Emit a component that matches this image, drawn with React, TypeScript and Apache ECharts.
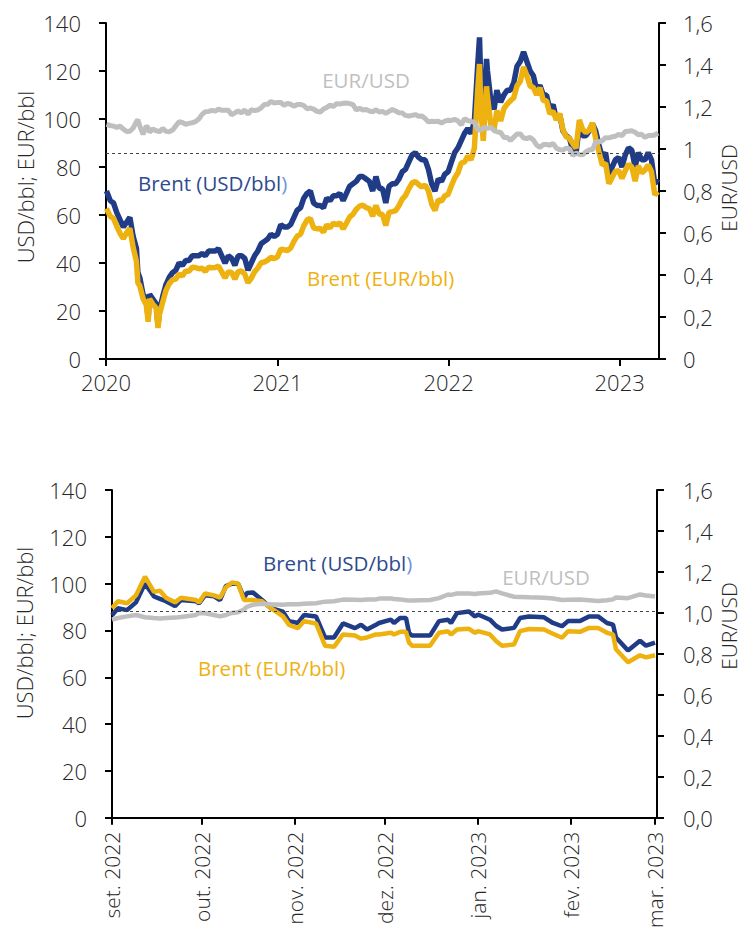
import React, { useEffect, useRef } from 'react';
import * as echarts from 'echarts';

// ---------- TOP CHART DATA (2020 – Mar 2023) ----------
const topDates = [
  '2020-01-02','2020-01-10','2020-01-17','2020-01-24','2020-01-31','2020-02-07','2020-02-14','2020-02-21','2020-02-28','2020-03-06',
  '2020-03-09','2020-03-13','2020-03-20','2020-03-27','2020-03-31','2020-04-03','2020-04-10','2020-04-17','2020-04-21','2020-04-24',
  '2020-05-01','2020-05-08','2020-05-15','2020-05-22','2020-05-29','2020-06-05','2020-06-12','2020-06-19','2020-06-26','2020-07-03',
  '2020-07-10','2020-07-17','2020-07-24','2020-07-31','2020-08-07','2020-08-14','2020-08-21','2020-08-28','2020-09-04','2020-09-11',
  '2020-09-18','2020-09-25','2020-10-02','2020-10-09','2020-10-16','2020-10-23','2020-10-30','2020-11-06','2020-11-13','2020-11-20',
  '2020-11-27','2020-12-04','2020-12-11','2020-12-18','2020-12-25','2021-01-01','2021-01-08','2021-01-15','2021-01-22','2021-01-29',
  '2021-02-05','2021-02-12','2021-02-19','2021-02-26','2021-03-05','2021-03-12','2021-03-19','2021-03-26','2021-04-02','2021-04-09',
  '2021-04-16','2021-04-23','2021-04-30','2021-05-07','2021-05-14','2021-05-21','2021-05-28','2021-06-04','2021-06-11','2021-06-18',
  '2021-06-25','2021-07-02','2021-07-09','2021-07-16','2021-07-23','2021-07-30','2021-08-06','2021-08-13','2021-08-20','2021-08-27',
  '2021-09-03','2021-09-10','2021-09-17','2021-09-24','2021-10-01','2021-10-08','2021-10-15','2021-10-22','2021-10-29','2021-11-05',
  '2021-11-12','2021-11-19','2021-11-26','2021-12-03','2021-12-10','2021-12-17','2021-12-24','2021-12-31','2022-01-07','2022-01-14',
  '2022-01-21','2022-01-28','2022-02-04','2022-02-11','2022-02-18','2022-02-25','2022-03-04','2022-03-08','2022-03-11','2022-03-16',
  '2022-03-23','2022-03-25','2022-04-01','2022-04-08','2022-04-14','2022-04-22','2022-04-29','2022-05-06','2022-05-13','2022-05-20',
  '2022-05-27','2022-06-03','2022-06-10','2022-06-17','2022-06-24','2022-07-01','2022-07-08','2022-07-15','2022-07-22','2022-07-29',
  '2022-08-05','2022-08-12','2022-08-19','2022-08-26','2022-09-02','2022-09-09','2022-09-16','2022-09-23','2022-09-30','2022-10-07',
  '2022-10-14','2022-10-21','2022-10-28','2022-11-04','2022-11-11','2022-11-18','2022-11-25','2022-12-02','2022-12-09','2022-12-16',
  '2022-12-23','2022-12-30','2023-01-06','2023-01-13','2023-01-20','2023-01-27','2023-02-03','2023-02-10','2023-02-17','2023-02-24',
  '2023-03-03','2023-03-10','2023-03-17','2023-03-24',
];
const topBrentUSD = [
  70, 66, 65, 61, 58, 55, 57, 59, 51, 46,
  36, 34, 27, 25, 17, 27, 25, 23, 14, 20,
  26, 31, 34, 36, 37, 40, 39, 41, 41, 43,
  43, 43, 44, 43, 45, 45, 45, 46, 43, 40,
  43, 42, 39, 43, 43, 42, 37, 40, 43, 45,
  48, 49, 50, 52, 51, 52, 56, 55, 55, 56,
  59, 62, 63, 67, 69, 70, 65, 64, 64, 63,
  67, 66, 68, 68, 69, 66, 69, 72, 73, 74,
  76, 76, 75, 74, 70, 76, 71, 71, 65, 72,
  73, 73, 75, 78, 79, 82, 85, 86, 84, 83,
  83, 79, 73, 70, 75, 74, 77, 78, 82, 86,
  88, 91, 94, 96, 94, 99, 122, 134, 113, 100,
  125, 120, 108, 104, 112, 107, 110, 112, 112, 115,
  122, 124, 128, 124, 120, 118, 112, 114, 110, 110,
  104, 106, 100, 102, 95, 93, 92, 87, 86, 97,
  93, 93, 95, 98, 95, 89, 84, 86, 77, 80,
  83, 84, 80, 85, 88, 87, 80, 86, 83, 83,
  86, 83, 73, 75,
];
const topBrentEUR = [
  62.7, 59.4, 58.6, 55.3, 52.3, 50.2, 52.6, 54.4, 46.4, 40.7,
  31.6, 30.6, 25.2, 22.5, 15.5, 25.0, 22.8, 21.2, 12.9, 18.5,
  23.7, 28.6, 31.4, 33.0, 33.3, 35.4, 34.6, 36.7, 36.5, 38.2,
  38.1, 37.6, 37.8, 36.5, 38.2, 38.0, 38.1, 38.7, 36.3, 33.8,
  36.3, 36.1, 33.3, 36.4, 36.7, 35.4, 31.8, 33.7, 36.3, 37.9,
  40.1, 40.4, 41.2, 42.4, 41.8, 42.6, 45.8, 45.5, 45.2, 46.2,
  49.0, 51.2, 52.0, 55.5, 57.9, 58.6, 54.6, 54.3, 54.4, 52.9,
  55.9, 54.6, 56.6, 55.9, 56.8, 54.2, 56.6, 59.2, 60.3, 62.4,
  63.7, 64.1, 63.1, 62.7, 59.5, 64.0, 60.4, 60.2, 55.6, 61.1,
  61.4, 61.8, 63.9, 66.6, 68.1, 70.9, 73.3, 73.9, 72.7, 71.7,
  72.5, 70.0, 64.5, 61.9, 66.3, 65.8, 68.0, 68.6, 72.2, 75.4,
  77.6, 81.6, 82.1, 84.6, 83.0, 87.8, 111.6, 122.9, 103.6, 90.9,
  113.6, 109.3, 97.7, 95.6, 103.5, 99.2, 104.3, 106.2, 107.6, 108.9,
  113.8, 115.7, 121.7, 118.1, 113.7, 113.1, 110.0, 113.1, 107.7, 107.6,
  102.2, 103.3, 99.6, 102.3, 95.5, 92.6, 91.9, 89.8, 87.8, 99.6,
  95.7, 94.3, 95.4, 98.4, 91.8, 86.2, 80.8, 81.6, 73.1, 75.6,
  78.2, 78.5, 75.2, 78.5, 81.1, 80.0, 74.1, 80.5, 77.6, 78.7,
  80.8, 78.0, 68.4, 69.7,
];
const topEURUSD = [
  1.117, 1.112, 1.109, 1.103, 1.109, 1.095, 1.083, 1.085, 1.100, 1.130,
  1.140, 1.110, 1.070, 1.110, 1.100, 1.080, 1.095, 1.087, 1.086, 1.080,
  1.098, 1.084, 1.082, 1.090, 1.110, 1.130, 1.126, 1.118, 1.122, 1.125,
  1.130, 1.143, 1.165, 1.178, 1.179, 1.184, 1.180, 1.190, 1.184, 1.184,
  1.184, 1.163, 1.172, 1.182, 1.172, 1.186, 1.165, 1.187, 1.183, 1.186,
  1.196, 1.212, 1.213, 1.226, 1.219, 1.222, 1.222, 1.208, 1.217, 1.213,
  1.204, 1.212, 1.212, 1.207, 1.192, 1.195, 1.190, 1.179, 1.176, 1.190,
  1.198, 1.209, 1.202, 1.216, 1.214, 1.218, 1.219, 1.216, 1.211, 1.186,
  1.194, 1.186, 1.188, 1.181, 1.177, 1.187, 1.176, 1.179, 1.170, 1.179,
  1.188, 1.181, 1.173, 1.172, 1.160, 1.157, 1.160, 1.164, 1.156, 1.157,
  1.145, 1.129, 1.132, 1.131, 1.132, 1.124, 1.133, 1.137, 1.136, 1.141,
  1.134, 1.115, 1.145, 1.135, 1.132, 1.127, 1.093, 1.090, 1.091, 1.100,
  1.100, 1.098, 1.105, 1.088, 1.082, 1.079, 1.055, 1.055, 1.041, 1.056,
  1.072, 1.072, 1.052, 1.050, 1.055, 1.043, 1.018, 1.008, 1.021, 1.022,
  1.018, 1.026, 1.004, 0.997, 0.995, 1.004, 1.001, 0.969, 0.980, 0.974,
  0.972, 0.986, 0.996, 0.996, 1.035, 1.033, 1.040, 1.054, 1.053, 1.058,
  1.061, 1.070, 1.064, 1.083, 1.085, 1.087, 1.080, 1.068, 1.070, 1.055,
  1.064, 1.064, 1.067, 1.076,
];

// ---------- BOTTOM CHART DATA (set. 2022 – mar. 2023) ----------
const bottomDates = [
  '2022-09-01','2022-09-03','2022-09-06','2022-09-09','2022-09-12','2022-09-15','2022-09-17','2022-09-19','2022-09-22','2022-09-24',
  '2022-09-29','2022-09-30','2022-10-02','2022-10-05','2022-10-07','2022-10-09','2022-10-11','2022-10-13','2022-10-15','2022-10-16',
  '2022-10-18','2022-10-21','2022-10-24','2022-10-28','2022-10-30','2022-11-02','2022-11-04','2022-11-08','2022-11-11','2022-11-14',
  '2022-11-17','2022-11-21','2022-11-23','2022-11-25','2022-11-28','2022-11-29','2022-12-03','2022-12-04','2022-12-06','2022-12-08',
  '2022-12-09','2022-12-10','2022-12-16','2022-12-19','2022-12-22','2022-12-23','2022-12-25','2022-12-29','2022-12-31','2023-01-01',
  '2023-01-05','2023-01-07','2023-01-09','2023-01-13','2023-01-15','2023-01-18','2023-01-23','2023-01-26','2023-01-29','2023-01-31',
  '2023-02-04','2023-02-07','2023-02-10','2023-02-13','2023-02-15','2023-02-16','2023-02-20','2023-02-24','2023-02-26','2023-03-01',
];
const bottomBrentUSD = [
  86.5, 89.5, 88.7, 92.0, 100.0, 94.5, 93.5, 92.5, 90.4, 93.0,
  92.5, 91.6, 95.0, 94.6, 93.0, 99.0, 100.0, 100.0, 94.0, 96.0,
  96.2, 93.0, 89.5, 88.0, 84.0, 83.2, 86.6, 86.0, 77.0, 77.0,
  83.0, 81.0, 82.4, 80.4, 82.4, 83.2, 84.6, 83.2, 85.3, 85.3,
  79.0, 77.8, 77.8, 84.0, 84.6, 83.2, 87.4, 88.1, 86.0, 86.8,
  84.6, 82.0, 80.4, 81.1, 85.3, 86.0, 85.6, 83.2, 81.8, 84.0,
  84.0, 86.0, 86.0, 83.2, 82.5, 77.0, 71.4, 75.6, 73.5, 74.8,
];
const bottomBrentEUR = [
  89.5, 92.5, 91.6, 95.0, 103.0, 96.5, 97.0, 94.0, 92.0, 94.0,
  93.0, 92.0, 95.8, 95.0, 94.0, 98.5, 100.5, 100.0, 93.0, 93.0,
  93.0, 92.5, 89.5, 86.0, 82.4, 81.0, 84.0, 83.0, 73.5, 73.0,
  78.3, 77.8, 76.5, 77.0, 78.3, 78.3, 79.0, 78.3, 79.4, 79.4,
  74.8, 73.5, 73.5, 79.0, 79.7, 78.3, 80.4, 80.7, 79.0, 79.7,
  78.3, 75.5, 73.5, 74.0, 79.7, 80.6, 80.4, 78.6, 76.9, 79.7,
  79.4, 81.1, 81.1, 79.0, 78.3, 72.0, 66.4, 69.4, 68.5, 69.4,
];
const bottomEURUSD = [
  0.968, 0.975, 0.983, 0.990, 0.979, 0.975, 0.973, 0.975, 0.977, 0.980,
  0.990, 1.000, 0.998, 0.990, 0.983, 0.990, 1.000, 1.003, 1.017, 1.030,
  1.040, 1.045, 1.042, 1.040, 1.042, 1.042, 1.045, 1.047, 1.055, 1.057,
  1.065, 1.064, 1.063, 1.065, 1.066, 1.070, 1.070, 1.068, 1.066, 1.062,
  1.060, 1.060, 1.063, 1.072, 1.090, 1.088, 1.095, 1.095, 1.092, 1.095,
  1.098, 1.105, 1.095, 1.079, 1.078, 1.076, 1.074, 1.070, 1.063, 1.064,
  1.066, 1.062, 1.058, 1.062, 1.066, 1.075, 1.072, 1.090, 1.085, 1.080,
];

// ---------- AXES / LABEL TEXT ----------
const leftAxisTitle = 'USD/bbl; EUR/bbl';
const rightAxisTitle = 'EUR/USD';
const monthsPT = ['jan.', 'fev.', 'mar.', 'abr.', 'mai.', 'jun.', 'jul.', 'ago.', 'set.', 'out.', 'nov.', 'dez.'];
const parityTop = 0.985;
const parityBottom = 1.01;

const FONT = "'Open Sans', 'Noto Sans', sans-serif";
const BLUE = '#203C86';
const GOLD = '#EDB20F';
const GRAY = '#BFBFBF';
const TEXT = '#262626';
const DAY = 24 * 3600 * 1000;

const pairs = (d: string[], v: number[]) => d.map((x, i) => [x, v[i]]);

export default function App() {
  const ref = useRef<HTMLDivElement>(null);
  useEffect(() => {
    if (!ref.current) return;
    const chart = echarts.init(ref.current, undefined, { renderer: 'svg' });

    const axisLine = { show: true, lineStyle: { color: '#000', width: 2 } };
    const axisTick = { show: true, length: 7, lineStyle: { color: '#000', width: 2 } };
    const lbl = { color: TEXT, fontSize: 22, fontFamily: FONT, fontWeight: 300 };

    const lineSeries = (name: string, data: any[], color: string, width: number, xi: number, yi: number, extra: any = {}) => ({
      name, type: 'line', data, xAxisIndex: xi, yAxisIndex: yi, showSymbol: false, symbol: 'none',
      lineStyle: { color, width }, itemStyle: { color }, silent: true, ...extra,
    });

    const mark = (v: number) => ({
      silent: true, symbol: 'none', label: { show: false },
      lineStyle: { type: [3, 3], color: '#444', width: 1 },
      data: [{ yAxis: v }],
    });

    const txt = (text: string, x: number, y: number, color: string, size: number, align: string, rot = 0, weight = 300, rich?: any) => ({
      type: 'text', x, y, rotation: rot, silent: true,
      style: { text, fill: color, fontSize: size, fontFamily: FONT, fontWeight: weight, align, verticalAlign: 'middle', rich },
    });
    const richUSD = {
      a: { fill: '#2F4A8F', fontSize: 20.5, fontFamily: FONT, fontWeight: 400 },
      b: { fill: '#6F93D6', fontSize: 20.5, fontFamily: FONT, fontWeight: 400 },
    };

    chart.setOption({
      animation: false,
      backgroundColor: '#fff',
      grid: [
        { left: 106, right: 84, top: 23, height: 336 },
        { left: 112, right: 86, top: 490, height: 333 },
      ],
      xAxis: [
        {
          type: 'time', gridIndex: 0, min: '2020-01-01', max: '2023-03-26',
          minInterval: 365 * DAY, maxInterval: 366 * DAY,
          axisLine, axisTick, splitLine: { show: false },
          axisLabel: { ...lbl, margin: 12, formatter: (v: number) => String(new Date(v).getFullYear()) },
        },
        {
          type: 'time', gridIndex: 1, min: '2022-09-01', max: '2023-03-01T16:00:00',
          minInterval: 28 * DAY, maxInterval: 31 * DAY, splitNumber: 6,
          axisLine, axisTick, splitLine: { show: false },
          axisLabel: {
            ...lbl, fontSize: 21, rotate: 90, margin: 14,
            formatter: (v: number) => { const d = new Date(v); return monthsPT[d.getMonth()] + ' ' + d.getFullYear(); },
          },
        },
      ],
      yAxis: [
        { type: 'value', gridIndex: 0, min: 0, max: 140, interval: 20, position: 'left', axisLine, axisTick, splitLine: { show: false }, axisLabel: { ...lbl, margin: 25 } },
        {
          type: 'value', gridIndex: 0, min: 0, max: 1.6, interval: 0.2, position: 'right', axisLine, axisTick, splitLine: { show: false },
          axisLabel: { ...lbl, margin: 24, formatter: (v: number) => String(+v.toFixed(1)).replace('.', ',') },
        },
        { type: 'value', gridIndex: 1, min: 0, max: 140, interval: 20, position: 'left', axisLine, axisTick, splitLine: { show: false }, axisLabel: { ...lbl, margin: 25 } },
        {
          type: 'value', gridIndex: 1, min: 0, max: 1.6, interval: 0.2, position: 'right', axisLine, axisTick, splitLine: { show: false },
          axisLabel: { ...lbl, margin: 26, formatter: (v: number) => v.toFixed(1).replace('.', ',') },
        },
      ],
      series: [
        lineSeries('Brent (USD/bbl)', pairs(topDates, topBrentUSD), BLUE, 5.5, 0, 0),
        lineSeries('Brent (EUR/bbl)', pairs(topDates, topBrentEUR), GOLD, 5.5, 0, 0),
        lineSeries('EUR/USD', pairs(topDates, topEURUSD), GRAY, 5, 0, 1, { markLine: mark(parityTop) }),
        lineSeries('Brent (USD/bbl) ', pairs(bottomDates, bottomBrentUSD), BLUE, 4.5, 1, 2),
        lineSeries('Brent (EUR/bbl) ', pairs(bottomDates, bottomBrentEUR), GOLD, 4.5, 1, 2),
        lineSeries('EUR/USD ', pairs(bottomDates, bottomEURUSD), GRAY, 4.5, 1, 3, { markLine: mark(parityBottom) }),
      ],
      graphic: [
        txt(leftAxisTitle, 25, 177, TEXT, 22, 'center', Math.PI / 2),
        txt(rightAxisTitle, 729, 188, TEXT, 21, 'center', Math.PI / 2),
        txt(leftAxisTitle, 24, 633, TEXT, 22, 'center', Math.PI / 2),
        txt(rightAxisTitle, 729, 626, TEXT, 21, 'center', Math.PI / 2),
        txt('EUR/USD', 366, 80, GRAY, 20.5, 'center', 0, 400),
        txt('{a|Brent (USD/bbl}{b|)}', 138, 183, '#2F4A8F', 20.5, 'left', 0, 400, richUSD),
        txt('Brent (EUR/bbl)', 307, 278, GOLD, 20.5, 'left', 0, 400),
        txt('{a|Brent (USD/bbl}{b|)}', 263, 563, '#2F4A8F', 20.5, 'left', 0, 400, richUSD),
        txt('EUR/USD', 546, 577, GRAY, 20.5, 'center', 0, 400),
        txt('Brent (EUR/bbl)', 198, 668, GOLD, 20.5, 'left', 0, 400),
      ],
    });
    return () => chart.dispose();
  }, []);
  return <div ref={ref} style={{ position: 'absolute', left: 0, top: 0, width: 743, height: 931 }} />;
}
